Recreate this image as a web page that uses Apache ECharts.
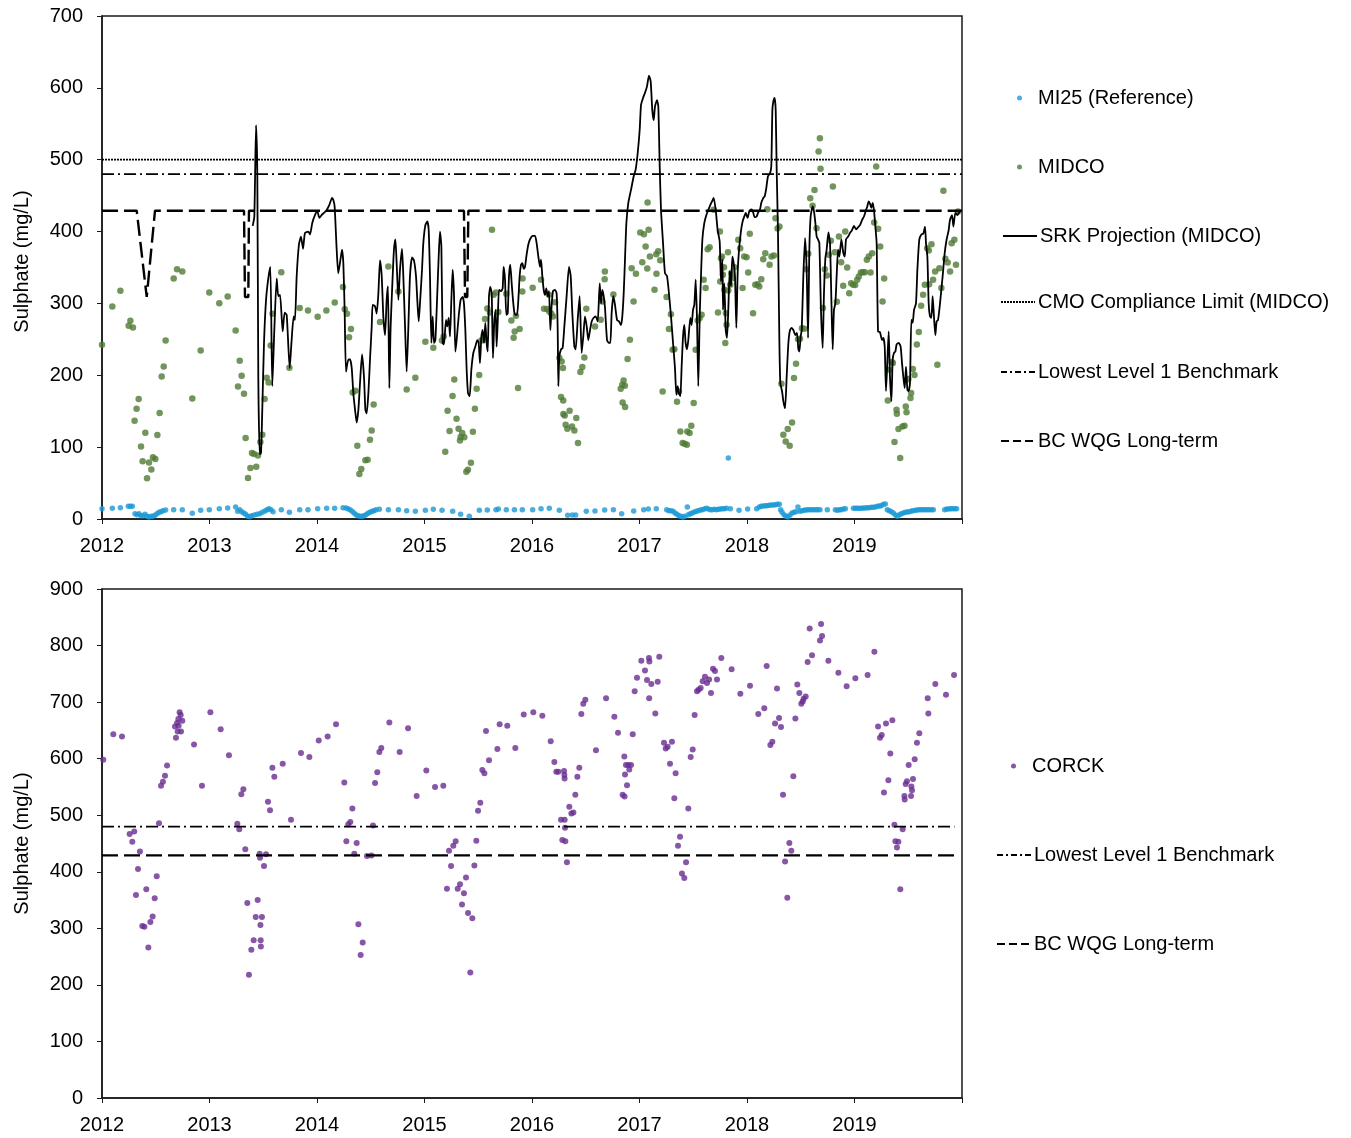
<!DOCTYPE html>
<html>
<head>
<meta charset="utf-8">
<script src="https://cdn.jsdelivr.net/npm/echarts@6/dist/echarts.min.js"></script>
<style>
html,body{margin:0;padding:0;background:#fff;}
#chart{width:1351px;height:1138px;}
</style>
</head>
<body>
<div id="chart"></div>
<script>
// ---------- DATA (decimal year, mg/L) ----------
const yearTicks = [2012, 2013, 2014, 2015, 2016, 2017, 2018, 2019];
const cmoLimit = 500;
const level1Benchmark = 480;
const bcwqgLongTerm = 429;

const mi25 = [
[2012.000,14.4],[2012.096,14.8],[2012.171,15.8],[2012.245,17.8],[2012.264,17.8],[2012.282,17.6],[2012.307,7.4],[2012.326,6.0],[2012.344,7.4],[2012.363,4.6],[2012.381,4.6],[2012.400,6.5],[2012.419,3.7],[2012.437,2.8],[2012.456,3.7],[2012.474,3.7],[2012.493,5.1],[2012.512,7.4],[2012.530,9.3],[2012.549,10.2],[2012.567,11.6],[2012.592,12.5],[2012.667,13.0],[2012.747,13.0],[2012.840,7.9],[2012.918,12.1],[2012.998,13.0],[2013.091,14.4],[2013.169,15.3],[2013.243,16.7],[2013.262,10.7],[2013.281,13.0],[2013.299,10.2],[2013.318,8.3],[2013.336,6.5],[2013.355,3.7],[2013.374,3.2],[2013.392,4.6],[2013.417,5.6],[2013.442,6.5],[2013.467,7.4],[2013.491,9.3],[2013.516,11.1],[2013.535,13.0],[2013.553,14.4],[2013.572,13.0],[2013.591,10.2],[2013.668,13.0],[2013.743,9.3],[2013.839,13.0],[2013.916,13.0],[2014.006,14.4],
[2014.090,14.8],[2014.164,14.8],[2014.242,15.8],[2014.270,15.3],[2014.288,14.4],[2014.307,13.0],[2014.326,10.7],[2014.344,8.3],[2014.363,6.0],[2014.381,4.6],[2014.400,3.7],[2014.419,3.7],[2014.437,4.6],[2014.456,6.0],[2014.474,7.9],[2014.493,9.3],[2014.512,10.7],[2014.530,11.6],[2014.549,13.0],[2014.580,13.4],[2014.664,13.0],[2014.757,13.0],[2014.834,11.6],[2014.915,10.7],[2015.008,12.1],[2015.082,13.4],[2015.163,12.1],[2015.262,10.7],[2015.336,6.5],[2015.417,3.7],[2015.510,12.1],[2015.584,12.5],[2015.665,13.0],[2015.687,13.9],[2015.761,13.0],[2015.836,13.0],[2015.910,13.0],[2016.006,13.0],
[2016.084,14.4],[2016.161,14.8],[2016.254,12.1],[2016.332,5.1],[2016.375,5.6],[2016.406,5.6],[2016.505,10.7],[2016.586,11.1],[2016.676,12.5],[2016.757,13.0],[2016.834,7.4],[2016.946,11.1],[2017.039,13.0],[2017.082,13.9],[2017.156,14.4],[2017.253,13.0],[2017.274,11.6],[2017.293,11.6],[2017.312,10.7],[2017.330,8.3],[2017.349,6.5],[2017.367,4.6],[2017.386,3.7],[2017.405,2.8],[2017.423,3.7],[2017.445,16.7],[2017.454,6.0],[2017.473,7.4],[2017.491,8.3],[2017.510,9.7],[2017.529,10.7],[2017.547,11.6],[2017.566,12.5],[2017.584,13.0],[2017.603,13.9],[2017.622,14.8],[2017.640,13.9],[2017.659,13.0],[2017.677,13.0],[2017.696,13.4],[2017.715,13.0],[2017.733,13.4],[2017.752,13.9],[2017.770,14.4],[2017.789,14.4],[2017.808,14.8],[2017.826,84.8],[2017.845,14.4],[2017.926,12.1],[2018.006,13.9],
[2018.090,14.4],[2018.115,16.7],[2018.133,17.6],[2018.152,18.1],[2018.171,18.5],[2018.189,18.5],[2018.208,19.0],[2018.226,19.5],[2018.245,19.5],[2018.264,19.9],[2018.282,20.4],[2018.301,20.4],[2018.313,13.0],[2018.326,9.3],[2018.344,6.0],[2018.363,3.7],[2018.381,2.8],[2018.400,5.6],[2018.419,8.3],[2018.437,9.3],[2018.456,10.2],[2018.474,16.7],[2018.493,10.7],[2018.512,11.6],[2018.530,12.1],[2018.549,12.5],[2018.567,13.0],[2018.586,13.0],[2018.605,13.0],[2018.623,13.0],[2018.642,13.0],[2018.660,13.0],[2018.679,13.0],[2018.747,13.0],[2018.822,13.0],[2018.840,12.1],[2018.859,13.0],[2018.877,13.0],[2018.896,13.9],[2018.915,14.4],[2018.990,14.8],[2019.008,14.8],[2019.026,14.8],[2019.045,14.8],[2019.064,14.8],[2019.082,15.3],[2019.101,15.3],[2019.120,15.8],[2019.138,15.8],[2019.157,16.2],[2019.175,16.2],[2019.194,16.7],[2019.212,17.6],[2019.231,18.1],[2019.249,18.5],[2019.268,20.4],[2019.287,20.9],[2019.305,13.0],[2019.324,11.6],[2019.343,10.2],[2019.361,8.3],[2019.380,5.6],[2019.398,3.7],[2019.417,6.0],[2019.435,7.4],[2019.454,8.3],[2019.473,9.3],[2019.491,9.7],[2019.510,10.2],[2019.529,11.1],[2019.547,11.6],[2019.566,12.1],[2019.584,12.5],[2019.603,13.0],[2019.622,13.0],[2019.640,13.0],[2019.659,13.0],[2019.677,13.0],[2019.696,13.0],[2019.715,13.0],[2019.733,13.0],[2019.839,13.0],[2019.857,13.9],[2019.876,13.9],[2019.895,14.4],[2019.913,14.4],[2019.932,14.4],[2019.950,14.4]
];

const midco = [
[2012.000,242.5],[2012.096,295.8],[2012.171,317.6],[2012.248,268.9],[2012.264,275.8],[2012.288,266.6],[2012.303,136.8],[2012.322,153.5],[2012.341,166.9],[2012.363,101.0],[2012.378,80.2],[2012.403,120.0],[2012.419,56.6],[2012.437,78.8],[2012.459,69.0],[2012.474,85.8],[2012.496,83.4],[2012.515,116.8],[2012.536,147.4],[2012.555,198.4],[2012.574,212.3],[2012.592,248.5],[2012.667,334.7],[2012.698,347.7],[2012.747,344.5],[2012.840,167.8],[2012.918,234.6],[2012.998,315.3],[2013.091,300.4],[2013.169,309.7],[2013.243,262.4],[2013.265,184.5],[2013.281,220.2],[2013.299,199.4],[2013.321,174.3],[2013.336,112.7],[2013.358,57.0],[2013.380,70.9],[2013.395,91.8],[2013.414,90.4],[2013.435,72.8],[2013.451,88.5],[2013.473,107.1],[2013.491,117.3],[2013.513,166.9],[2013.532,196.6],[2013.550,190.1],[2013.569,241.5],[2013.587,285.6],[2013.668,343.5],[2013.743,210.5],[2013.839,293.5],[2013.916,290.2],[2014.006,281.4],
[2014.087,290.2],[2014.165,301.3],[2014.242,322.7],[2014.258,292.0],[2014.279,285.6],[2014.298,253.1],[2014.316,264.3],[2014.332,176.2],[2014.357,178.5],[2014.375,102.0],[2014.394,62.6],[2014.412,69.5],[2014.450,81.6],[2014.471,82.5],[2014.493,110.3],[2014.509,123.3],[2014.527,159.5],[2014.586,274.0],[2014.664,351.4],[2014.757,316.6],[2014.834,180.3],[2014.915,196.6],[2015.008,246.6],[2015.082,238.3],[2015.162,248.5],[2015.178,254.0],[2015.193,93.6],[2015.215,150.7],[2015.233,122.4],[2015.261,171.0],[2015.277,194.2],[2015.298,139.5],[2015.317,125.6],[2015.330,109.4],[2015.336,114.0],[2015.351,119.6],[2015.370,113.6],[2015.389,65.8],[2015.404,68.6],[2015.432,78.3],[2015.450,121.5],[2015.469,153.5],[2015.485,181.3],[2015.509,200.3],[2015.528,248.5],[2015.547,249.4],[2015.563,278.2],[2015.584,293.0],[2015.609,287.4],[2015.628,402.4],[2015.643,312.0],[2015.665,315.3],[2015.687,287.9],[2015.761,313.4],[2015.808,276.3],[2015.829,252.2],[2015.839,261.0],[2015.851,282.8],[2015.870,182.2],[2015.885,264.3],[2015.910,316.6],[2015.912,334.7],[2016.006,321.7],
[2016.084,332.9],[2016.112,292.5],[2016.140,292.1],[2016.158,312.0],[2016.161,288.8],[2016.180,285.6],[2016.196,281.9],[2016.214,301.8],[2016.255,223.9],[2016.270,169.7],[2016.276,219.3],[2016.288,210.0],[2016.290,165.0],[2016.292,146.0],[2016.304,144.2],[2016.313,131.2],[2016.329,125.6],[2016.350,150.7],[2016.372,128.9],[2016.394,123.3],[2016.412,140.5],[2016.428,105.7],[2016.450,204.5],[2016.468,211.4],[2016.487,224.8],[2016.505,292.5],[2016.586,268.0],[2016.639,277.2],[2016.654,302.7],[2016.676,333.8],[2016.678,344.5],[2016.757,312.5],[2016.825,181.3],[2016.840,186.8],[2016.843,162.3],[2016.852,192.9],[2016.864,185.4],[2016.866,155.8],[2016.889,222.5],[2016.911,249.4],[2016.927,349.1],[2016.945,302.7],[2016.967,341.2],[2017.007,398.7],[2017.026,357.4],[2017.041,396.4],[2017.057,379.2],[2017.072,348.6],[2017.075,440.4],[2017.085,402.4],[2017.097,365.3],[2017.140,318.9],[2017.156,368.6],[2017.158,341.2],[2017.174,372.7],[2017.193,360.2],[2017.215,177.6],[2017.252,308.8],[2017.274,264.3],[2017.292,285.1],[2017.308,235.5],[2017.324,236.4],[2017.349,163.2],[2017.367,177.6],[2017.380,121.9],[2017.401,105.7],[2017.420,104.8],[2017.441,103.4],[2017.445,121.9],[2017.466,119.6],[2017.482,129.8],[2017.504,161.3],[2017.522,235.5],[2017.541,276.3],[2017.560,279.6],[2017.578,284.2],[2017.597,332.9],[2017.615,321.3],[2017.634,375.5],[2017.652,378.3],[2017.690,430.2],[2017.730,287.4],[2017.748,400.1],[2017.751,330.6],[2017.758,363.0],[2017.767,365.3],[2017.776,339.8],[2017.786,350.5],[2017.789,319.0],[2017.798,244.8],[2017.804,286.5],[2017.810,270.3],[2017.823,371.3],[2017.826,318.0],[2017.844,325.9],[2017.854,342.1],[2017.863,335.2],[2017.882,350.5],[2017.919,388.5],[2017.937,376.9],[2017.959,321.3],[2017.974,365.3],[2017.996,364.4],[2018.011,343.1],[2018.026,396.8],
[2018.056,286.5],[2018.077,325.9],[2018.098,326.8],[2018.114,323.6],[2018.133,333.8],[2018.151,361.6],[2018.170,369.9],[2018.189,431.1],[2018.210,353.7],[2018.228,365.3],[2018.250,366.7],[2018.265,418.6],[2018.284,404.3],[2018.302,407.0],[2018.320,188.2],[2018.338,117.3],[2018.360,108.0],[2018.379,125.2],[2018.397,102.0],[2018.419,134.4],[2018.437,196.1],[2018.456,216.0],[2018.475,250.3],[2018.493,250.8],[2018.511,265.6],[2018.533,264.7],[2018.551,347.7],[2018.570,369.0],[2018.588,446.5],[2018.610,435.8],[2018.628,458.0],[2018.647,404.7],[2018.666,511.4],[2018.678,529.9],[2018.684,487.3],[2018.706,293.5],[2018.724,347.7],[2018.743,338.9],[2018.761,367.6],[2018.780,387.1],[2018.799,462.7],[2018.817,371.3],[2018.836,302.3],[2018.855,393.1],[2018.876,357.4],[2018.895,324.5],[2018.914,400.1],[2018.932,350.0],[2018.951,314.3],[2018.969,328.2],[2018.988,325.9],[2019.006,325.5],[2019.025,332.9],[2019.040,337.5],[2019.059,343.1],[2019.078,343.5],[2019.096,343.5],[2019.115,360.7],[2019.133,365.3],[2019.149,343.1],[2019.164,369.9],[2019.183,412.6],[2019.202,490.5],[2019.220,403.8],[2019.239,379.2],[2019.261,302.7],[2019.276,334.7],[2019.310,165.0],[2019.328,207.7],[2019.347,218.4],[2019.357,217.0],[2019.372,107.1],[2019.391,152.1],[2019.394,146.5],[2019.409,125.2],[2019.425,84.8],[2019.446,128.9],[2019.465,129.8],[2019.477,156.7],[2019.484,148.4],[2019.502,194.7],[2019.521,168.3],[2019.527,175.2],[2019.543,208.6],[2019.558,200.3],[2019.580,242.9],[2019.598,260.1],[2019.620,296.7],[2019.638,312.0],[2019.654,325.9],[2019.676,376.9],[2019.691,373.7],[2019.694,326.8],[2019.716,382.5],[2019.731,332.9],[2019.750,344.5],[2019.771,214.7],[2019.790,349.1],[2019.808,321.3],[2019.827,456.7],[2019.845,362.1],[2019.867,357.0],[2019.889,344.5],[2019.904,383.9],[2019.929,388.5],[2019.944,353.7],[2019.963,427.9]
];

const srkProjection = [
[2013.402,408],[2013.417,421],[2013.433,548],[2013.445,476],[2013.454,198],[2013.467,90],[2013.479,92],[2013.491,152],[2013.507,245],[2013.526,305],[2013.547,335],[2013.566,351],[2013.584,185],[2013.603,263],[2013.625,335],[2013.640,310],[2013.656,312],[2013.681,261],[2013.699,287],[2013.718,284],[2013.746,210],[2013.764,249],[2013.783,282],[2013.795,277],[2013.811,338],[2013.832,382],[2013.851,393],[2013.870,376],[2013.888,398],[2013.919,400],[2013.935,396],[2013.956,412],[2013.981,423],[2014.003,428],[2014.022,419],[2014.043,423],[2014.065,426],[2014.090,430],[2014.115,437],[2014.140,447],[2014.152,444],[2014.164,435],[2014.183,375],[2014.198,342],[2014.220,363],[2014.233,375],[2014.245,356],[2014.257,291],[2014.270,205],[2014.292,222],[2014.307,222],[2014.323,210],[2014.338,175],[2014.354,152],[2014.369,134],[2014.385,152],[2014.400,189],[2014.419,229],[2014.437,198],[2014.450,152],[2014.462,147],[2014.478,175],[2014.493,222],[2014.509,268],[2014.518,298],[2014.540,296],[2014.555,286],[2014.571,314],[2014.586,360],[2014.602,338],[2014.617,282],[2014.633,256],[2014.648,305],[2014.660,324],[2014.673,182],[2014.685,268],[2014.704,338],[2014.716,375],[2014.729,389],[2014.741,356],[2014.757,305],[2014.772,347],[2014.791,376],[2014.803,338],[2014.819,268],[2014.834,205],[2014.850,268],[2014.865,338],[2014.884,364],[2014.902,360],[2014.921,338],[2014.933,305],[2014.946,275],[2014.958,300],[2014.977,347],[2014.989,384],[2015.008,409],[2015.026,414],[2015.039,402],[2015.051,338],[2015.064,245],[2015.076,282],[2015.088,245],[2015.101,249],[2015.119,314],[2015.132,365],[2015.144,400],[2015.157,379],[2015.169,245],[2015.181,243],[2015.200,277],[2015.212,268],[2015.225,280],[2015.237,254],[2015.250,305],[2015.262,347],[2015.274,314],[2015.287,233],[2015.299,249],[2015.318,282],[2015.336,305],[2015.355,309],[2015.367,300],[2015.380,263],[2015.392,208],[2015.405,175],[2015.420,171],[2015.436,208],[2015.454,231],[2015.473,240],[2015.491,249],[2015.504,245],[2015.516,217],[2015.529,254],[2015.541,263],[2015.554,245],[2015.566,273],[2015.578,245],[2015.588,233],[2015.600,310],[2015.612,323],[2015.625,314],[2015.637,224],[2015.650,277],[2015.662,291],[2015.671,240],[2015.681,273],[2015.693,319],[2015.712,317],[2015.727,321],[2015.736,351],[2015.749,333],[2015.761,284],[2015.774,286],[2015.786,338],[2015.798,354],[2015.811,328],[2015.823,305],[2015.836,287],[2015.848,284],[2015.861,284],[2015.873,305],[2015.885,338],[2015.898,354],[2015.910,356],[2015.923,348],[2015.935,351],[2015.950,368],[2015.966,382],[2015.981,389],[2016.006,394],
[2016.028,394],[2016.043,384],[2016.059,365],[2016.074,351],[2016.084,361],[2016.096,338],[2016.109,319],[2016.121,312],[2016.133,321],[2016.146,310],[2016.158,317],[2016.171,263],[2016.180,291],[2016.195,317],[2016.214,319],[2016.229,314],[2016.239,263],[2016.245,185],[2016.254,226],[2016.270,236],[2016.285,238],[2016.301,268],[2016.322,310],[2016.344,351],[2016.360,338],[2016.375,287],[2016.394,240],[2016.406,236],[2016.425,277],[2016.443,310],[2016.462,231],[2016.478,256],[2016.493,282],[2016.509,268],[2016.524,249],[2016.540,263],[2016.555,275],[2016.574,280],[2016.592,282],[2016.611,275],[2016.630,328],[2016.642,300],[2016.654,319],[2016.667,310],[2016.679,294],[2016.698,249],[2016.716,245],[2016.729,245],[2016.741,287],[2016.757,310],[2016.772,298],[2016.791,277],[2016.809,275],[2016.828,270],[2016.840,282],[2016.853,314],[2016.865,361],[2016.878,412],[2016.896,440],[2016.921,458],[2016.946,477],[2016.964,486],[2016.983,509],[2017.002,542],[2017.014,576],[2017.033,586],[2017.051,593],[2017.070,602],[2017.088,617],[2017.104,609],[2017.119,569],[2017.132,555],[2017.144,574],[2017.163,583],[2017.175,574],[2017.188,491],[2017.200,430],[2017.219,384],[2017.237,342],[2017.256,338],[2017.274,314],[2017.293,282],[2017.312,245],[2017.330,210],[2017.343,173],[2017.355,185],[2017.367,175],[2017.380,171],[2017.392,212],[2017.405,254],[2017.417,270],[2017.429,245],[2017.442,236],[2017.454,249],[2017.473,280],[2017.485,270],[2017.498,291],[2017.510,298],[2017.523,333],[2017.535,277],[2017.547,185],[2017.560,282],[2017.572,338],[2017.585,389],[2017.603,412],[2017.622,423],[2017.640,430],[2017.659,437],[2017.678,443],[2017.690,447],[2017.709,430],[2017.727,402],[2017.746,386],[2017.758,331],[2017.771,361],[2017.777,291],[2017.789,328],[2017.802,263],[2017.814,252],[2017.826,291],[2017.839,345],[2017.851,324],[2017.864,365],[2017.876,356],[2017.888,338],[2017.901,266],[2017.913,342],[2017.926,375],[2017.938,393],[2017.950,407],[2017.963,416],[2017.975,421],[2017.988,426],[2018.006,419],
[2018.022,429],[2018.040,431],[2018.053,429],[2018.071,420],[2018.090,421],[2018.102,426],[2018.121,431],[2018.133,440],[2018.152,447],[2018.164,449],[2018.177,458],[2018.195,477],[2018.214,481],[2018.226,491],[2018.236,569],[2018.245,581],[2018.257,586],[2018.267,569],[2018.276,486],[2018.288,402],[2018.301,249],[2018.310,189],[2018.326,178],[2018.338,164],[2018.354,154],[2018.369,198],[2018.385,245],[2018.400,263],[2018.416,266],[2018.431,263],[2018.450,256],[2018.465,259],[2018.478,236],[2018.487,233],[2018.499,254],[2018.509,263],[2018.524,338],[2018.540,391],[2018.555,347],[2018.568,252],[2018.580,375],[2018.592,421],[2018.611,435],[2018.623,428],[2018.636,412],[2018.648,393],[2018.661,389],[2018.673,384],[2018.688,291],[2018.704,238],[2018.716,314],[2018.729,363],[2018.741,375],[2018.757,399],[2018.772,384],[2018.785,305],[2018.797,236],[2018.809,291],[2018.822,300],[2018.834,338],[2018.847,375],[2018.859,365],[2018.878,389],[2018.896,370],[2018.909,365],[2018.921,389],[2018.940,393],[2018.958,398],[2018.977,402],[2018.995,408],[2019.014,403],[2019.033,406],[2019.051,409],[2019.070,416],[2019.088,421],[2019.107,430],[2019.119,435],[2019.132,442],[2019.144,439],[2019.157,433],[2019.169,440],[2019.181,430],[2019.194,407],[2019.206,384],[2019.219,261],[2019.237,260],[2019.256,249],[2019.268,252],[2019.281,240],[2019.293,178],[2019.305,217],[2019.318,261],[2019.330,198],[2019.343,164],[2019.355,222],[2019.367,231],[2019.380,233],[2019.392,243],[2019.411,245],[2019.429,240],[2019.442,217],[2019.454,198],[2019.467,182],[2019.479,212],[2019.492,180],[2019.504,178],[2019.516,189],[2019.529,277],[2019.541,273],[2019.554,291],[2019.572,300],[2019.585,347],[2019.603,389],[2019.622,396],[2019.640,397],[2019.656,407],[2019.665,384],[2019.678,365],[2019.690,300],[2019.702,282],[2019.715,280],[2019.727,310],[2019.740,280],[2019.752,256],[2019.764,275],[2019.777,277],[2019.789,291],[2019.802,310],[2019.820,338],[2019.839,370],[2019.857,389],[2019.876,402],[2019.888,416],[2019.907,423],[2019.920,407],[2019.938,426],[2019.957,423],[2019.975,427],[2019.994,430]
];

// BC WQG long-term guideline (hardness-dependent; dips where hardness was low)
const bcwqgTop = [
[2012.000,429],[2012.323,429],[2012.416,309],[2012.493,429],[2013.321,429],[2013.330,309],[2013.361,309],[2013.367,429],[2015.367,429],[2015.377,309],[2015.398,309],[2015.408,429],[2020.000,429]
];

const corck = [
[2012.012,598],[2012.105,643],[2012.186,639],[2012.257,467],[2012.282,453],[2012.300,471],[2012.316,359],[2012.335,405],[2012.353,436],[2012.375,304],[2012.394,303],[2012.412,369],[2012.431,266],[2012.450,311],[2012.471,321],[2012.490,353],[2012.509,392],[2012.530,486],[2012.549,552],[2012.567,559],[2012.586,570],[2012.605,588],[2012.679,657],[2012.688,637],[2012.698,663],[2012.704,648],[2012.710,670],[2012.713,658],[2012.722,682],[2012.732,677],[2012.735,648],[2012.747,667],[2012.856,625],[2012.930,552],[2013.008,682],[2013.104,652],[2013.181,606],[2013.259,485],[2013.277,475],[2013.296,537],[2013.315,546],[2013.333,440],[2013.352,345],[2013.367,218],[2013.389,262],[2013.411,279],[2013.430,320],[2013.448,350],[2013.467,432],[2013.470,425],[2013.474,306],[2013.476,279],[2013.478,268],[2013.488,320],[2013.507,410],[2013.526,431],[2013.544,524],[2013.563,509],[2013.585,584],[2013.603,568],[2013.681,591],[2013.758,492],[2013.851,610],[2013.929,603],[2014.016,632],
[2014.099,639],[2014.177,661],[2014.254,558],[2014.273,454],[2014.291,484],[2014.310,488],[2014.329,512],[2014.347,432],[2014.369,451],[2014.385,307],[2014.406,253],[2014.425,275],[2014.465,428],[2014.506,429],[2014.521,482],[2014.540,557],[2014.561,576],[2014.580,612],[2014.598,619],[2014.673,664],[2014.769,612],[2014.847,654],[2014.927,534],[2015.017,579],[2015.098,550],[2015.175,552],[2015.209,370],[2015.228,437],[2015.247,410],[2015.268,446],[2015.290,454],[2015.309,370],[2015.330,378],[2015.349,342],[2015.367,362],[2015.386,390],[2015.405,327],[2015.426,222],[2015.445,318],[2015.464,411],[2015.482,455],[2015.498,508],[2015.519,522],[2015.538,580],[2015.557,574],[2015.572,649],[2015.600,597],[2015.678,617],[2015.699,661],[2015.770,658],[2015.845,619],[2015.923,678],[2016.012,682],
[2016.096,676],[2016.174,631],[2016.208,594],[2016.226,577],[2016.245,577],[2016.270,492],[2016.282,456],[2016.298,578],[2016.301,571],[2016.303,565],[2016.304,492],[2016.307,478],[2016.310,454],[2016.325,417],[2016.347,515],[2016.366,503],[2016.385,505],[2016.403,536],[2016.422,568],[2016.440,584],[2016.459,679],[2016.477,697],[2016.496,704],[2016.595,615],[2016.689,707],[2016.766,674],[2016.800,646],[2016.843,536],[2016.859,604],[2016.861,533],[2016.865,572],[2016.874,589],[2016.884,553],[2016.896,589],[2016.905,581],[2016.921,589],[2016.937,643],[2016.955,719],[2016.977,743],[2017.017,773],[2017.051,756],[2017.070,739],[2017.088,778],[2017.090,707],[2017.092,772],[2017.110,732],[2017.147,680],[2017.169,736],[2017.184,780],[2017.228,628],[2017.244,618],[2017.262,621],[2017.284,591],[2017.302,630],[2017.324,530],[2017.336,574],[2017.358,446],[2017.377,462],[2017.395,397],[2017.417,389],[2017.433,417],[2017.454,512],[2017.476,603],[2017.495,616],[2017.513,677],[2017.535,719],[2017.550,722],[2017.569,725],[2017.588,737],[2017.609,745],[2017.628,734],[2017.647,740],[2017.665,716],[2017.684,759],[2017.702,755],[2017.721,740],[2017.761,778],[2017.857,758],[2017.938,715],[2018.028,729],
[2018.105,679],[2018.161,689],[2018.183,764],[2018.217,624],[2018.236,630],[2018.261,662],[2018.279,724],[2018.298,672],[2018.316,656],[2018.335,536],[2018.354,418],[2018.375,354],[2018.394,451],[2018.412,437],[2018.431,569],[2018.450,671],[2018.468,731],[2018.487,716],[2018.505,697],[2018.518,701],[2018.527,706],[2018.546,710],[2018.564,771],[2018.583,830],[2018.605,783],[2018.679,809],[2018.689,838],[2018.698,817],[2018.757,773],[2018.850,752],[2018.927,728],[2019.008,742],[2019.122,748],[2019.185,789],[2019.219,657],[2019.237,637],[2019.253,642],[2019.274,540],[2019.293,662],[2019.315,562],[2019.333,609],[2019.352,668],[2019.371,483],[2019.380,454],[2019.395,443],[2019.408,453],[2019.426,369],[2019.448,475],[2019.464,534],[2019.467,528],[2019.476,555],[2019.488,560],[2019.504,589],[2019.526,534],[2019.529,551],[2019.535,544],[2019.544,564],[2019.560,599],[2019.581,628],[2019.603,645],[2019.681,707],[2019.687,680],[2019.752,732],[2019.851,713],[2019.926,748]
];

// ---------- CHART ----------
const FONT = "'Liberation Sans', Arial, sans-serif";
const FS = 20;
const AXIS_COLOR = '#1a1a1a';
const C_MI25 = '#1b9ad6';
const C_MIDCO = '#4f7a34';
const C_CORCK = '#6a2c91';

const xStart = yearTicks[0];
const xEnd = yearTicks[yearTicks.length - 1] + 1;

function xAxisCfg(gridIndex) {
  return {
    type: 'value', gridIndex, min: xStart, max: xEnd, interval: 1,
    axisLine: { show: true, onZero: false, lineStyle: { color: AXIS_COLOR, width: 1.5 } },
    axisTick: { show: true, length: 5, lineStyle: { color: AXIS_COLOR, width: 1 } },
    axisLabel: {
      color: '#000', fontFamily: FONT, fontSize: FS, margin: 17,
      formatter: v => (yearTicks.indexOf(Math.round(v)) >= 0 ? String(Math.round(v)) : '')
    },
    splitLine: { show: false }
  };
}
function yAxisCfg(gridIndex, max, namePad) {
  return {
    type: 'value', gridIndex, min: 0, max, interval: 100,
    name: 'Sulphate (mg/L)', nameLocation: 'middle', nameGap: 70, nameRotate: 90,
    nameTextStyle: { color: '#000', fontFamily: FONT, fontSize: FS, padding: [0, 0, 0, namePad] },
    axisLine: { show: true, lineStyle: { color: AXIS_COLOR, width: 1.5 } },
    axisTick: { show: true, length: 5, lineStyle: { color: AXIS_COLOR, width: 1 } },
    axisLabel: { color: '#000', fontFamily: FONT, fontSize: FS, margin: 19 },
    splitLine: { show: false }
  };
}
function flatLine(v, x0, x1) { return [[x0, v], [x1, v]]; }

const dotStyle = { type: [2, 1], width: 1.8, color: '#000' };
const dashDotStyle = { type: [12, 4, 2, 4], width: 1.8, color: '#000' };
const dashStyle = { type: [16, 6], width: 2.4, color: '#000' };

function legendItem(name, left, cy, isDot, legendLineType) {
  const cfg = {
    data: [name], left, top: cy - 9, orient: 'horizontal', padding: 0,
    itemWidth: isDot ? 5 : 34, itemHeight: isDot ? 5 : 14, itemGap: 0,
    selectedMode: false,
    textStyle: { color: '#000', fontFamily: FONT, fontSize: FS, padding: [0, 0, 0, isDot ? 11 : -2] }
  };
  if (!isDot) cfg.itemStyle = { opacity: 0 };
  if (legendLineType) cfg.lineStyle = { type: legendLineType };
  return cfg;
}

const legendDash = [8, 4];
const legendDashDot = [6, 3, 2, 3];

const option = {
  animation: false,
  backgroundColor: '#fff',
  grid: [
    { left: 102, top: 16, width: 860, height: 503, show: true, borderColor: AXIS_COLOR, borderWidth: 1.5, backgroundColor: 'transparent' },
    { left: 102, top: 589, width: 860, height: 509, show: true, borderColor: AXIS_COLOR, borderWidth: 1.5, backgroundColor: 'transparent' }
  ],
  xAxis: [xAxisCfg(0), xAxisCfg(1)],
  yAxis: [yAxisCfg(0, 700, 12), yAxisCfg(1, 900, 0)],
  legend: [
    legendItem('MI25 (Reference)', 1017, 97, true),
    legendItem('MIDCO', 1017, 166, true),
    legendItem('SRK Projection (MIDCO)', 1002, 235, false),
    legendItem('CMO Compliance Limit (MIDCO)', 1000, 301, false),
    legendItem('Lowest Level 1 Benchmark', 1000, 371, false, legendDashDot),
    legendItem('BC WQG Long-term', 1000, 440, false, legendDash),
    legendItem('CORCK', 1011, 765, true),
    legendItem('Lowest Level 1 Benchmark', 996, 854, false, legendDashDot),
    legendItem('BC WQG Long-term', 996, 943, false, legendDash)
  ],
  series: [
    { name: 'MI25 (Reference)', type: 'scatter', xAxisIndex: 0, yAxisIndex: 0, data: mi25,
      symbol: 'circle', symbolSize: 5.5, itemStyle: { color: C_MI25 } },
    { name: 'MIDCO', type: 'scatter', xAxisIndex: 0, yAxisIndex: 0, data: midco,
      symbol: 'circle', symbolSize: 6.5, itemStyle: { color: C_MIDCO } },
    { name: 'SRK Projection (MIDCO)', type: 'line', xAxisIndex: 0, yAxisIndex: 0, data: srkProjection,
      symbol: 'none', smooth: 0.2, lineStyle: { color: '#000', width: 1.8 }, itemStyle: { color: '#000' } },
    { name: 'CMO Compliance Limit (MIDCO)', type: 'line', xAxisIndex: 0, yAxisIndex: 0, data: flatLine(cmoLimit, xStart, xEnd),
      symbol: 'none', lineStyle: dotStyle, itemStyle: { color: '#000' } },
    { name: 'Lowest Level 1 Benchmark', type: 'line', xAxisIndex: 0, yAxisIndex: 0, data: flatLine(level1Benchmark, xStart, xEnd),
      symbol: 'none', lineStyle: dashDotStyle, itemStyle: { color: '#000' } },
    { name: 'BC WQG Long-term', type: 'line', xAxisIndex: 0, yAxisIndex: 0, data: bcwqgTop,
      symbol: 'none', lineStyle: dashStyle, itemStyle: { color: '#000' } },
    { name: 'CORCK', type: 'scatter', xAxisIndex: 1, yAxisIndex: 1, data: corck,
      symbol: 'circle', symbolSize: 6, itemStyle: { color: C_CORCK } },
    { name: 'Lowest Level 1 Benchmark', type: 'line', xAxisIndex: 1, yAxisIndex: 1, data: flatLine(level1Benchmark, xStart, 2019.93),
      symbol: 'none', lineStyle: dashDotStyle, itemStyle: { color: '#000' } },
    { name: 'BC WQG Long-term', type: 'line', xAxisIndex: 1, yAxisIndex: 1, data: flatLine(bcwqgLongTerm, xStart, 2019.93),
      symbol: 'none', lineStyle: dashStyle, itemStyle: { color: '#000' } }
  ]
};

const chart = echarts.init(document.getElementById('chart'), null, { renderer: 'canvas' });
chart.setOption(option);
</script>
</body>
</html>
